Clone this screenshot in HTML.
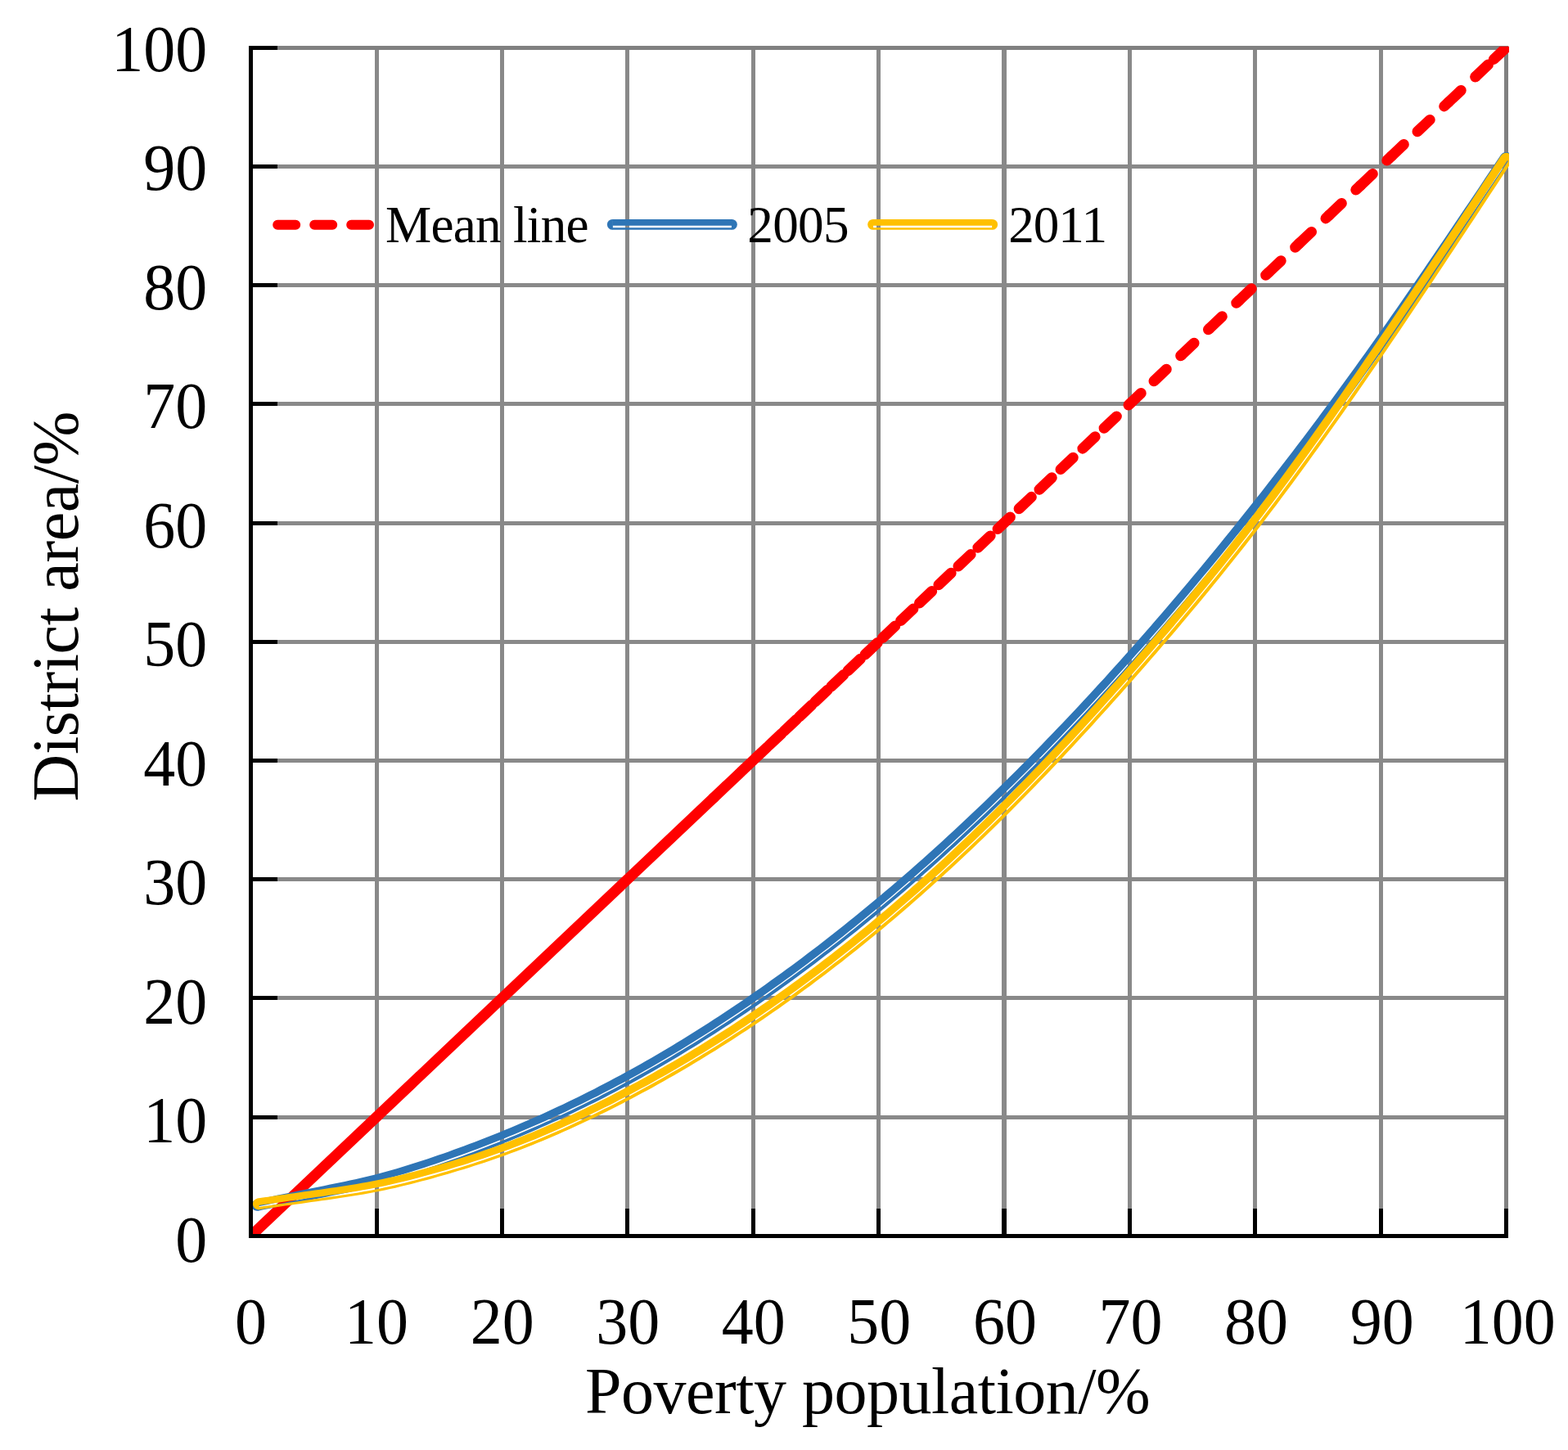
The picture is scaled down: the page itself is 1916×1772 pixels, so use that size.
<!DOCTYPE html>
<html lang="en"><head><meta charset="utf-8"><title>Lorenz curve: poverty population vs district area</title>
<style>html,body{margin:0;padding:0;background:#fff}body{width:1916px;height:1772px;overflow:hidden}svg{display:block}text{font-family:"Liberation Serif",serif;fill:#000}</style>
</head><body>
<svg width="1916" height="1772" viewBox="0 0 1916 1772">
<rect width="1916" height="1772" fill="#fff"/>
<g fill="#898989" shape-rendering="crispEdges">
<rect x="458" y="56" width="5" height="1452"/>
<rect x="611" y="56" width="5" height="1452"/>
<rect x="764" y="56" width="5" height="1452"/>
<rect x="918" y="56" width="5" height="1452"/>
<rect x="1071" y="56" width="5" height="1452"/>
<rect x="1224" y="56" width="6" height="1452"/>
<rect x="1378" y="56" width="5" height="1452"/>
<rect x="1531" y="56" width="5" height="1452"/>
<rect x="1685" y="56" width="5" height="1452"/>
<rect x="304" y="1363" width="1539" height="5"/>
<rect x="304" y="1217" width="1539" height="5"/>
<rect x="304" y="1072" width="1539" height="5"/>
<rect x="304" y="927" width="1539" height="5"/>
<rect x="304" y="782" width="1539" height="5"/>
<rect x="304" y="637" width="1539" height="5"/>
<rect x="304" y="491" width="1539" height="5"/>
<rect x="304" y="346" width="1539" height="5"/>
<rect x="304" y="201" width="1539" height="5"/>
<rect x="1838" y="56" width="5" height="1452" fill="#808080"/>
<rect x="304" y="56" width="1539" height="5" fill="#808080"/>
</g>
<clipPath id="plot"><rect x="306.5" y="56.8" width="1537.5" height="1453.6"/></clipPath>
<g clip-path="url(#plot)">
<g stroke="#FF0000" stroke-width="13" fill="none" stroke-linecap="round">
<line x1="306.5" y1="1510.4" x2="872.01" y2="975.01"/>
<line x1="872.01" y1="975.01" x2="888.24" y2="959.64" stroke-dasharray="21 24"/>
<line x1="888.24" y1="959.64" x2="904.94" y2="943.83" stroke-dasharray="21 24"/>
<line x1="904.94" y1="943.83" x2="922.12" y2="927.57" stroke-dasharray="21 24"/>
<line x1="922.12" y1="927.57" x2="939.78" y2="910.85" stroke-dasharray="21 24"/>
<line x1="939.78" y1="910.85" x2="957.96" y2="893.64" stroke-dasharray="21 24"/>
<line x1="957.96" y1="893.64" x2="976.66" y2="875.94" stroke-dasharray="21 24"/>
<line x1="976.66" y1="875.94" x2="995.89" y2="857.73" stroke-dasharray="21 24"/>
<line x1="995.89" y1="857.73" x2="1015.68" y2="839" stroke-dasharray="21 24"/>
<line x1="1015.68" y1="839" x2="1036.03" y2="819.73" stroke-dasharray="21 24"/>
<line x1="1036.03" y1="819.73" x2="1056.97" y2="799.91" stroke-dasharray="21 24"/>
<line x1="1056.97" y1="799.91" x2="1078.5" y2="779.51" stroke-dasharray="21 24"/>
<line x1="1078.5" y1="779.51" x2="1100.66" y2="758.54" stroke-dasharray="21 24"/>
<line x1="1100.66" y1="758.54" x2="1123.45" y2="736.96" stroke-dasharray="21 24"/>
<line x1="1123.45" y1="736.96" x2="1146.9" y2="714.76" stroke-dasharray="21 24"/>
<line x1="1146.9" y1="714.76" x2="1170.9" y2="692.04" stroke-dasharray="21 24"/>
<line x1="1170.9" y1="692.04" x2="1194.9" y2="669.32" stroke-dasharray="21 24"/>
<line x1="1194.9" y1="669.32" x2="1219.1" y2="646.41" stroke-dasharray="21 24"/>
<line x1="1219.1" y1="646.41" x2="1245.1" y2="621.79" stroke-dasharray="21 24"/>
<line x1="1245.1" y1="621.79" x2="1270" y2="598.22" stroke-dasharray="21 24"/>
<line x1="1270" y1="598.22" x2="1296" y2="573.6" stroke-dasharray="21 24"/>
<line x1="1296" y1="573.6" x2="1322.9" y2="548.14" stroke-dasharray="21 24"/>
<line x1="1322.9" y1="548.14" x2="1349.1" y2="523.33" stroke-dasharray="21 24"/>
<line x1="1349.1" y1="523.33" x2="1379" y2="495.02" stroke-dasharray="21 24"/>
<line x1="1379" y1="495.02" x2="1410" y2="465.68" stroke-dasharray="21 24"/>
<line x1="1410" y1="465.68" x2="1443.8" y2="433.68" stroke-dasharray="21 24"/>
<line x1="1443.8" y1="433.68" x2="1478.1" y2="401.2" stroke-dasharray="21 24"/>
<line x1="1478.1" y1="401.2" x2="1514" y2="367.21" stroke-dasharray="21 24"/>
<line x1="1514" y1="367.21" x2="1550" y2="333.13" stroke-dasharray="21 24"/>
<line x1="1550" y1="333.13" x2="1587.3" y2="297.82" stroke-dasharray="21 24"/>
<line x1="1587.3" y1="297.82" x2="1624.1" y2="262.98" stroke-dasharray="21 24"/>
<line x1="1624.1" y1="262.98" x2="1662.1" y2="227" stroke-dasharray="21 24"/>
<line x1="1662.1" y1="227" x2="1700.1" y2="191.03" stroke-dasharray="21 24"/>
<line x1="1700.1" y1="191.03" x2="1732" y2="160.83" stroke-dasharray="21 24"/>
<line x1="1732" y1="160.83" x2="1770" y2="124.85" stroke-dasharray="21 24"/>
<line x1="1770" y1="124.85" x2="1803.2" y2="93.42" stroke-dasharray="21 24"/>
<line x1="1803.2" y1="93.42" x2="1825.4" y2="72.4" stroke-dasharray="21 24"/>
<line x1="1825.4" y1="72.4" x2="1840.4" y2="58.2" stroke-dasharray="21 24"/>
</g>
<g fill="#2E75B6" stroke="none">
<path d="M312.76 1466.18 L319.15 1464.85 L325.53 1463.51 L331.92 1462.18 L338.31 1460.86 L344.7 1459.53 L351.09 1458.21 L357.48 1456.89 L363.87 1455.58 L370.27 1454.28 L376.66 1452.98 L383.05 1451.69 L389.44 1450.41 L395.83 1449.13 L402.21 1447.85 L408.58 1446.56 L414.94 1445.25 L421.3 1443.92 L427.66 1442.56 L434.01 1441.17 L440.35 1439.75 L446.68 1438.27 L453.01 1436.75 L459.34 1435.17 L465.67 1433.52 L471.99 1431.81 L478.32 1430.02 L484.64 1428.18 L490.98 1426.29 L497.31 1424.36 L503.65 1422.37 L509.99 1420.34 L516.33 1418.27 L522.68 1416.16 L529.02 1414.02 L535.38 1411.84 L541.73 1409.63 L548.08 1407.39 L554.43 1405.11 L560.78 1402.81 L567.14 1400.47 L573.49 1398.1 L579.84 1395.7 L586.19 1393.26 L592.54 1390.8 L598.89 1388.29 L605.24 1385.76 L611.59 1383.19 L617.94 1380.59 L624.29 1377.95 L630.64 1375.28 L636.99 1372.57 L643.34 1369.83 L649.69 1367.05 L656.04 1364.24 L662.39 1361.39 L668.74 1358.5 L675.09 1355.58 L681.44 1352.62 L687.79 1349.63 L694.14 1346.6 L700.48 1343.53 L706.83 1340.42 L713.18 1337.28 L719.53 1334.1 L725.88 1330.88 L732.22 1327.62 L738.57 1324.32 L744.92 1320.98 L751.27 1317.61 L757.62 1314.19 L763.96 1310.74 L770.31 1307.24 L776.66 1303.71 L783.02 1300.15 L789.37 1296.55 L795.73 1292.9 L802.08 1289.22 L808.44 1285.5 L814.8 1281.74 L821.15 1277.93 L827.51 1274.09 L833.87 1270.21 L840.22 1266.3 L846.58 1262.34 L852.94 1258.34 L859.3 1254.31 L865.66 1250.23 L872.02 1246.12 L878.37 1241.97 L884.73 1237.78 L891.09 1233.56 L897.45 1229.29 L903.82 1224.99 L910.18 1220.65 L916.54 1216.27 L922.9 1211.85 L929.26 1207.4 L935.62 1202.9 L941.98 1198.37 L948.34 1193.81 L954.71 1189.2 L961.07 1184.56 L967.43 1179.88 L973.79 1175.16 L980.16 1170.4 L986.52 1165.6 L992.88 1160.77 L999.25 1155.9 L1005.61 1150.99 L1011.97 1146.04 L1018.34 1141.05 L1024.7 1136.03 L1031.06 1130.97 L1037.43 1125.86 L1043.79 1120.72 L1050.16 1115.54 L1056.52 1110.33 L1062.89 1105.07 L1069.25 1099.78 L1075.62 1094.44 L1081.98 1089.07 L1088.35 1083.66 L1094.72 1078.21 L1101.08 1072.72 L1107.45 1067.19 L1113.81 1061.63 L1120.18 1056.02 L1126.55 1050.38 L1132.91 1044.7 L1139.28 1038.98 L1145.65 1033.22 L1152.02 1027.42 L1158.38 1021.58 L1164.75 1015.71 L1171.12 1009.79 L1177.49 1003.84 L1183.86 997.85 L1190.22 991.82 L1196.59 985.75 L1202.96 979.64 L1209.33 973.5 L1215.7 967.31 L1222.07 961.09 L1228.44 954.83 L1234.81 948.53 L1241.18 942.19 L1247.55 935.81 L1253.92 929.4 L1260.29 922.94 L1266.66 916.45 L1273.03 909.92 L1279.4 903.36 L1285.77 896.75 L1292.14 890.11 L1298.51 883.42 L1304.88 876.71 L1311.26 869.95 L1317.63 863.16 L1324 856.32 L1330.37 849.46 L1336.74 842.55 L1343.12 835.61 L1349.49 828.63 L1355.86 821.61 L1362.23 814.55 L1368.61 807.46 L1374.98 800.34 L1381.35 793.17 L1387.73 785.97 L1394.1 778.73 L1400.47 771.46 L1406.85 764.15 L1413.22 756.8 L1419.59 749.41 L1425.97 741.99 L1432.34 734.53 L1438.72 727.03 L1445.09 719.5 L1451.46 711.92 L1457.84 704.31 L1464.21 696.66 L1470.59 688.98 L1476.96 681.26 L1483.34 673.49 L1489.71 665.69 L1496.08 657.86 L1502.46 649.98 L1508.83 642.07 L1515.21 634.11 L1521.58 626.12 L1527.96 618.09 L1534.33 610.03 L1540.71 601.92 L1547.08 593.77 L1553.46 585.59 L1559.83 577.37 L1566.21 569.1 L1572.58 560.8 L1578.96 552.46 L1585.34 544.08 L1591.71 535.66 L1598.09 527.2 L1604.46 518.69 L1610.84 510.15 L1617.21 501.57 L1623.59 492.95 L1629.97 484.29 L1636.34 475.58 L1642.72 466.84 L1649.09 458.06 L1655.47 449.23 L1661.85 440.36 L1668.22 431.45 L1674.6 422.5 L1680.98 413.51 L1687.35 404.48 L1693.73 395.41 L1700.11 386.29 L1706.48 377.14 L1712.86 367.96 L1719.24 358.74 L1725.62 349.49 L1732 340.21 L1738.38 330.9 L1744.76 321.57 L1751.14 312.21 L1757.52 302.82 L1763.91 293.42 L1770.29 283.99 L1776.67 274.55 L1783.05 265.09 L1789.44 255.62 L1795.82 246.13 L1802.2 236.64 L1808.59 227.13 L1814.97 217.62 L1821.36 208.1 L1827.74 198.58 L1834.13 189.05 L1842.19 194.45 L1835.8 203.98 L1829.41 213.5 L1823.03 223.02 L1816.64 232.54 L1810.26 242.05 L1803.87 251.55 L1797.48 261.04 L1791.1 270.51 L1784.71 279.98 L1778.32 289.43 L1771.93 298.86 L1765.55 308.27 L1759.16 317.66 L1752.77 327.03 L1746.39 336.38 L1740 345.7 L1733.61 354.99 L1727.22 364.25 L1720.83 373.49 L1714.45 382.68 L1708.06 391.85 L1701.67 400.98 L1695.28 410.07 L1688.89 419.12 L1682.5 428.12 L1676.12 437.09 L1669.73 446.02 L1663.34 454.9 L1656.95 463.74 L1650.56 472.55 L1644.17 481.31 L1637.78 490.03 L1631.4 498.71 L1625.01 507.35 L1618.62 515.95 L1612.23 524.51 L1605.84 533.02 L1599.45 541.5 L1593.06 549.94 L1586.67 558.34 L1580.28 566.7 L1573.9 575.02 L1567.51 583.3 L1561.12 591.54 L1554.73 599.74 L1548.34 607.91 L1541.95 616.03 L1535.56 624.12 L1529.17 632.16 L1522.78 640.17 L1516.39 648.14 L1510.01 656.07 L1503.62 663.97 L1497.23 671.82 L1490.84 679.64 L1484.45 687.42 L1478.06 695.16 L1471.67 702.87 L1465.28 710.53 L1458.89 718.16 L1452.5 725.75 L1446.11 733.3 L1439.72 740.82 L1433.34 748.3 L1426.95 755.74 L1420.56 763.14 L1414.17 770.51 L1407.78 777.84 L1401.39 785.13 L1395 792.39 L1388.61 799.61 L1382.22 806.79 L1375.83 813.94 L1369.44 821.05 L1363.05 828.12 L1356.66 835.16 L1350.27 842.16 L1343.88 849.12 L1337.49 856.04 L1331.1 862.93 L1324.71 869.78 L1318.32 876.59 L1311.93 883.37 L1305.54 890.11 L1299.15 896.81 L1292.76 903.47 L1286.37 910.1 L1279.98 916.69 L1273.59 923.24 L1267.2 929.75 L1260.81 936.22 L1254.42 942.66 L1248.03 949.06 L1241.64 955.42 L1235.25 961.74 L1228.86 968.02 L1222.47 974.26 L1216.08 980.47 L1209.69 986.64 L1203.3 992.76 L1196.9 998.85 L1190.51 1004.9 L1184.12 1010.92 L1177.73 1016.89 L1171.34 1022.83 L1164.95 1028.72 L1158.56 1034.58 L1152.17 1040.4 L1145.78 1046.18 L1139.39 1051.92 L1132.99 1057.63 L1126.6 1063.29 L1120.21 1068.92 L1113.82 1074.51 L1107.43 1080.06 L1101.04 1085.57 L1094.64 1091.04 L1088.25 1096.47 L1081.86 1101.87 L1075.47 1107.22 L1069.08 1112.54 L1062.69 1117.82 L1056.29 1123.06 L1049.9 1128.26 L1043.51 1133.42 L1037.12 1138.55 L1030.73 1143.63 L1024.33 1148.68 L1017.94 1153.69 L1011.55 1158.66 L1005.16 1163.59 L998.76 1168.48 L992.37 1173.34 L985.98 1178.16 L979.59 1182.94 L973.19 1187.68 L966.8 1192.38 L960.41 1197.05 L954.02 1201.68 L947.62 1206.27 L941.23 1210.82 L934.84 1215.33 L928.45 1219.81 L922.05 1224.25 L915.66 1228.65 L909.27 1233.01 L902.87 1237.34 L896.48 1241.62 L890.09 1245.87 L883.69 1250.08 L877.3 1254.26 L870.91 1258.39 L864.51 1262.49 L858.12 1266.54 L851.73 1270.56 L845.33 1274.54 L838.94 1278.48 L832.54 1282.38 L826.15 1286.25 L819.75 1290.07 L813.36 1293.86 L806.97 1297.6 L800.57 1301.31 L794.18 1304.97 L787.78 1308.6 L781.39 1312.18 L774.99 1315.73 L768.59 1319.23 L762.19 1322.68 L755.79 1326.1 L749.39 1329.48 L742.99 1332.82 L736.6 1336.12 L730.2 1339.38 L723.8 1342.6 L717.4 1345.78 L711 1348.93 L704.6 1352.04 L698.2 1355.1 L691.81 1358.14 L685.41 1361.13 L679.01 1364.09 L672.61 1367.01 L666.21 1369.89 L659.81 1372.74 L653.42 1375.55 L647.02 1378.32 L640.62 1381.06 L634.22 1383.77 L627.83 1386.44 L621.43 1389.07 L615.03 1391.67 L608.63 1394.24 L602.24 1396.77 L595.84 1399.27 L589.44 1401.73 L583.05 1404.16 L576.65 1406.56 L570.25 1408.93 L563.85 1411.26 L557.46 1413.56 L551.06 1415.83 L544.67 1418.06 L538.27 1420.27 L531.87 1422.44 L525.48 1424.58 L519.08 1426.68 L512.68 1428.74 L506.28 1430.76 L499.88 1432.73 L493.48 1434.66 L487.08 1436.53 L480.67 1438.36 L474.27 1440.12 L467.87 1441.84 L461.47 1443.5 L455.06 1445.1 L448.66 1446.64 L442.27 1448.13 L435.87 1449.57 L429.47 1450.97 L423.08 1452.33 L416.69 1453.67 L410.3 1454.98 L403.91 1456.28 L397.52 1457.56 L391.13 1458.84 L384.75 1460.12 L378.37 1461.41 L371.98 1462.71 L365.6 1464.01 L359.21 1465.32 L352.83 1466.63 L346.44 1467.95 L340.06 1469.28 L333.67 1470.6 L327.29 1471.93 L320.9 1473.27 L314.52 1474.6 Z"/>
<path d="M314.93 1476.56 L321.31 1475.22 L327.7 1473.89 L334.08 1472.56 L340.47 1471.24 L346.85 1469.91 L353.23 1468.59 L359.62 1467.28 L366 1465.97 L372.38 1464.67 L378.76 1463.37 L385.14 1462.08 L391.53 1460.8 L397.91 1459.52 L404.3 1458.24 L410.7 1456.94 L417.09 1455.63 L423.49 1454.29 L429.9 1452.92 L436.3 1451.52 L442.71 1450.08 L449.13 1448.59 L455.54 1447.04 L461.96 1445.44 L468.38 1443.77 L474.79 1442.04 L481.21 1440.24 L487.62 1438.4 L494.03 1436.49 L500.43 1434.55 L506.84 1432.55 L513.25 1430.51 L519.65 1428.43 L526.05 1426.31 L532.45 1424.16 L538.85 1421.97 L545.25 1419.75 L551.65 1417.5 L558.05 1415.22 L564.45 1412.9 L570.85 1410.56 L577.25 1408.18 L583.65 1405.77 L590.05 1403.32 L596.45 1400.84 L602.85 1398.33 L609.25 1395.78 L615.65 1393.2 L622.05 1390.58 L628.45 1387.93 L634.85 1385.25 L641.25 1382.53 L647.65 1379.78 L654.04 1376.98 L660.44 1374.16 L666.84 1371.3 L673.24 1368.4 L679.64 1365.46 L686.04 1362.49 L692.44 1359.48 L698.84 1356.43 L705.24 1353.35 L711.64 1350.23 L718.04 1347.07 L724.43 1343.87 L730.83 1340.63 L737.23 1337.35 L743.63 1334.04 L750.03 1330.68 L756.43 1327.29 L762.82 1323.86 L769.22 1320.38 L775.62 1316.87 L782.02 1313.32 L788.42 1309.73 L794.82 1306.1 L801.22 1302.43 L807.62 1298.72 L814.02 1294.98 L820.42 1291.19 L826.82 1287.36 L833.22 1283.5 L839.62 1279.59 L846.02 1275.65 L852.41 1271.66 L858.81 1267.64 L865.21 1263.58 L871.61 1259.48 L878.01 1255.35 L884.41 1251.17 L890.8 1246.96 L897.2 1242.7 L903.6 1238.41 L910 1234.09 L916.39 1229.72 L922.79 1225.32 L929.19 1220.87 L935.59 1216.39 L941.98 1211.88 L948.38 1207.32 L954.78 1202.73 L961.17 1198.1 L967.57 1193.43 L973.97 1188.72 L980.36 1183.98 L986.76 1179.2 L993.16 1174.38 L999.55 1169.52 L1005.95 1164.62 L1012.35 1159.69 L1018.74 1154.71 L1025.14 1149.7 L1031.53 1144.65 L1037.93 1139.56 L1044.33 1134.43 L1050.72 1129.27 L1057.12 1124.06 L1063.51 1118.82 L1069.91 1113.54 L1076.3 1108.22 L1082.7 1102.86 L1089.09 1097.46 L1095.49 1092.03 L1101.88 1086.55 L1108.28 1081.04 L1114.67 1075.49 L1121.07 1069.9 L1127.46 1064.27 L1133.86 1058.6 L1140.25 1052.89 L1146.65 1047.15 L1153.04 1041.36 L1159.44 1035.54 L1165.83 1029.68 L1172.22 1023.78 L1178.62 1017.84 L1185.01 1011.87 L1191.41 1005.85 L1197.8 999.8 L1204.19 993.7 L1210.59 987.57 L1216.98 981.4 L1223.37 975.19 L1229.77 968.95 L1236.16 962.66 L1242.56 956.34 L1248.95 949.98 L1255.34 943.58 L1261.73 937.14 L1268.13 930.66 L1274.52 924.15 L1280.91 917.59 L1287.31 911 L1293.7 904.37 L1300.09 897.71 L1306.48 891 L1312.88 884.26 L1319.27 877.49 L1325.66 870.67 L1332.05 863.82 L1338.45 856.93 L1344.84 850 L1351.23 843.03 L1357.62 836.03 L1364.01 828.99 L1370.41 821.92 L1376.8 814.81 L1383.19 807.66 L1389.58 800.47 L1395.97 793.25 L1402.36 785.99 L1408.76 778.7 L1415.15 771.36 L1421.54 763.99 L1427.93 756.59 L1434.32 749.14 L1440.71 741.66 L1447.11 734.14 L1453.5 726.59 L1459.89 719 L1466.28 711.37 L1472.67 703.7 L1479.06 695.99 L1485.45 688.25 L1491.84 680.46 L1498.24 672.65 L1504.63 664.79 L1511.02 656.89 L1517.41 648.96 L1523.8 640.98 L1530.19 632.97 L1536.58 624.92 L1542.97 616.84 L1549.36 608.71 L1555.75 600.54 L1562.14 592.34 L1568.54 584.1 L1574.93 575.81 L1581.32 567.49 L1587.71 559.13 L1594.1 550.73 L1600.49 542.29 L1606.88 533.81 L1613.27 525.28 L1619.66 516.72 L1626.05 508.12 L1632.44 499.48 L1638.83 490.8 L1645.22 482.08 L1651.61 473.31 L1658 464.51 L1664.39 455.66 L1670.78 446.78 L1677.17 437.85 L1683.56 428.88 L1689.95 419.87 L1696.34 410.81 L1702.73 401.72 L1709.12 392.59 L1715.51 383.43 L1721.9 374.23 L1728.29 364.99 L1734.68 355.73 L1741.07 346.43 L1747.46 337.11 L1753.85 327.77 L1760.23 318.4 L1766.62 309 L1773.01 299.59 L1779.4 290.16 L1785.79 280.71 L1792.17 271.24 L1798.56 261.76 L1804.95 252.27 L1811.33 242.77 L1817.72 233.26 L1824.11 223.75 L1830.49 214.23 L1836.88 204.7 L1843.27 195.18 L1846.67 197.46 L1840.29 206.98 L1833.9 216.51 L1827.51 226.03 L1821.12 235.55 L1814.74 245.06 L1808.35 254.56 L1801.96 264.05 L1795.57 273.53 L1789.18 283 L1782.79 292.45 L1776.4 301.89 L1770.01 311.31 L1763.62 320.7 L1757.23 330.08 L1750.84 339.43 L1744.45 348.75 L1738.06 358.05 L1731.67 367.32 L1725.27 376.56 L1718.88 385.77 L1712.49 394.94 L1706.09 404.08 L1699.7 413.18 L1693.3 422.23 L1686.91 431.25 L1680.51 440.23 L1674.12 449.17 L1667.72 458.06 L1661.32 466.91 L1654.93 475.72 L1648.53 484.49 L1642.14 493.23 L1635.74 501.91 L1629.34 510.56 L1622.95 519.17 L1616.55 527.74 L1610.16 536.27 L1603.76 544.76 L1597.36 553.21 L1590.97 561.61 L1584.57 569.98 L1578.17 578.31 L1571.78 586.6 L1565.38 594.85 L1558.99 603.07 L1552.59 611.24 L1546.19 619.37 L1539.8 627.47 L1533.4 635.53 L1527 643.54 L1520.6 651.52 L1514.21 659.47 L1507.81 667.37 L1501.41 675.24 L1495.02 683.06 L1488.62 690.85 L1482.22 698.6 L1475.82 706.32 L1469.43 713.99 L1463.03 721.63 L1456.63 729.23 L1450.23 736.8 L1443.83 744.32 L1437.44 751.81 L1431.04 759.26 L1424.64 766.68 L1418.24 774.05 L1411.84 781.39 L1405.45 788.7 L1399.05 795.96 L1392.65 803.19 L1386.25 810.39 L1379.85 817.54 L1373.45 824.66 L1367.05 831.75 L1360.65 838.79 L1354.25 845.8 L1347.86 852.77 L1341.46 859.71 L1335.06 866.61 L1328.66 873.47 L1322.26 880.29 L1315.86 887.08 L1309.46 893.83 L1303.05 900.54 L1296.65 907.22 L1290.25 913.85 L1283.85 920.45 L1277.45 927.01 L1271.05 933.54 L1264.65 940.02 L1258.25 946.47 L1251.84 952.88 L1245.44 959.25 L1239.04 965.58 L1232.64 971.88 L1226.24 978.13 L1219.83 984.35 L1213.43 990.53 L1207.03 996.67 L1200.62 1002.77 L1194.22 1008.83 L1187.82 1014.86 L1181.41 1020.84 L1175.01 1026.79 L1168.61 1032.7 L1162.2 1038.57 L1155.8 1044.4 L1149.39 1050.19 L1142.99 1055.95 L1136.58 1061.66 L1130.18 1067.34 L1123.77 1072.98 L1117.37 1078.58 L1110.96 1084.14 L1104.56 1089.66 L1098.15 1095.15 L1091.74 1100.59 L1085.34 1106 L1078.93 1111.37 L1072.52 1116.7 L1066.12 1121.99 L1059.71 1127.24 L1053.3 1132.45 L1046.9 1137.63 L1040.49 1142.76 L1034.08 1147.86 L1027.67 1152.92 L1021.26 1157.94 L1014.86 1162.93 L1008.45 1167.87 L1002.04 1172.78 L995.63 1177.65 L989.22 1182.48 L982.81 1187.27 L976.4 1192.02 L969.99 1196.74 L963.58 1201.42 L957.17 1206.06 L950.76 1210.66 L944.35 1215.22 L937.94 1219.75 L931.53 1224.24 L925.12 1228.69 L918.71 1233.1 L912.3 1237.48 L905.89 1241.81 L899.48 1246.11 L893.07 1250.38 L886.65 1254.6 L880.24 1258.78 L873.83 1262.93 L867.42 1267.04 L861 1271.11 L854.59 1275.14 L848.17 1279.13 L841.76 1283.09 L835.35 1287 L828.93 1290.88 L822.52 1294.71 L816.1 1298.51 L809.68 1302.27 L803.27 1305.98 L796.85 1309.66 L790.43 1313.3 L784.02 1316.9 L777.6 1320.45 L771.17 1323.96 L764.75 1327.43 L758.33 1330.86 L751.9 1334.24 L745.48 1337.59 L739.05 1340.9 L732.63 1344.17 L726.21 1347.4 L719.78 1350.59 L713.36 1353.74 L706.94 1356.85 L700.51 1359.93 L694.09 1362.97 L687.67 1365.97 L681.24 1368.94 L674.82 1371.86 L668.4 1374.75 L661.97 1377.61 L655.55 1380.43 L649.13 1383.21 L642.71 1385.95 L636.29 1388.66 L629.86 1391.34 L623.44 1393.98 L617.02 1396.59 L610.6 1399.16 L604.18 1401.69 L597.76 1404.2 L591.34 1406.67 L584.92 1409.1 L578.5 1411.51 L572.08 1413.88 L565.66 1416.21 L559.24 1418.52 L552.82 1420.79 L546.4 1423.03 L539.98 1425.24 L533.56 1427.41 L527.13 1429.56 L520.71 1431.66 L514.28 1433.73 L507.85 1435.75 L501.41 1437.73 L494.97 1439.66 L488.53 1441.54 L482.09 1443.37 L475.64 1445.14 L469.2 1446.86 L462.75 1448.54 L456.3 1450.15 L449.86 1451.7 L443.43 1453.2 L437 1454.65 L430.57 1456.05 L424.16 1457.42 L417.74 1458.76 L411.34 1460.08 L404.94 1461.37 L398.54 1462.66 L392.16 1463.94 L385.78 1465.22 L379.4 1466.51 L373.02 1467.8 L366.64 1469.1 L360.26 1470.41 L353.88 1471.73 L347.5 1473.05 L341.12 1474.37 L334.73 1475.7 L328.35 1477.02 L321.96 1478.36 L315.58 1479.69 Z"/>
<path d="M313.35 1466.06 L312.76 1466.18 A6.9 6.9 0 0 0 315.58 1479.69 L316.17 1479.57 Z"/>
<path d="M1833.79 189.55 L1834.13 189.05 A7.55 7.55 0 0 1 1846.67 197.46 L1846.34 197.96 Z"/>
</g>
<g fill="#FFC000" stroke="none">
<path d="M314.73 1464.51 L321.11 1463.59 L327.49 1462.68 L333.87 1461.77 L340.25 1460.87 L346.63 1459.96 L353.01 1459.05 L359.39 1458.14 L365.77 1457.24 L372.15 1456.34 L378.54 1455.44 L384.92 1454.54 L391.29 1453.64 L397.66 1452.74 L404.03 1451.83 L410.39 1450.91 L416.74 1449.96 L423.09 1448.98 L429.43 1447.98 L435.77 1446.94 L442.1 1445.85 L448.43 1444.72 L454.75 1443.53 L461.06 1442.28 L467.38 1440.97 L473.7 1439.6 L480.02 1438.18 L486.35 1436.69 L492.68 1435.16 L499.01 1433.58 L505.35 1431.95 L511.69 1430.28 L518.03 1428.55 L524.37 1426.79 L530.71 1424.99 L537.06 1423.16 L543.4 1421.3 L549.75 1419.4 L556.09 1417.48 L562.43 1415.51 L568.77 1413.51 L575.1 1411.47 L581.44 1409.39 L587.77 1407.27 L594.1 1405.1 L600.43 1402.89 L606.76 1400.63 L613.09 1398.32 L619.41 1395.96 L625.74 1393.55 L632.07 1391.09 L638.4 1388.58 L644.73 1386.03 L651.06 1383.43 L657.39 1380.78 L663.72 1378.08 L670.06 1375.35 L676.39 1372.56 L682.72 1369.73 L689.06 1366.86 L695.39 1363.94 L701.73 1360.99 L708.07 1357.99 L714.41 1354.95 L720.75 1351.86 L727.09 1348.74 L733.43 1345.58 L739.77 1342.38 L746.11 1339.14 L752.45 1335.86 L758.8 1332.54 L765.14 1329.19 L771.48 1325.8 L777.83 1322.38 L784.17 1318.91 L790.52 1315.41 L796.86 1311.89 L803.21 1308.32 L809.56 1304.72 L815.91 1301.08 L822.26 1297.4 L828.61 1293.69 L834.96 1289.94 L841.31 1286.14 L847.67 1282.31 L854.02 1278.44 L860.37 1274.53 L866.72 1270.58 L873.07 1266.59 L879.42 1262.56 L885.77 1258.49 L892.12 1254.39 L898.47 1250.23 L904.82 1246.04 L911.17 1241.81 L917.53 1237.54 L923.88 1233.22 L930.23 1228.87 L936.58 1224.47 L942.93 1220.03 L949.29 1215.55 L955.64 1211.03 L961.99 1206.46 L968.34 1201.86 L974.7 1197.21 L981.05 1192.52 L987.41 1187.78 L993.76 1183.01 L1000.11 1178.19 L1006.47 1173.33 L1012.82 1168.43 L1019.18 1163.48 L1025.53 1158.49 L1031.89 1153.46 L1038.24 1148.39 L1044.6 1143.27 L1050.95 1138.11 L1057.31 1132.91 L1063.66 1127.66 L1070.02 1122.37 L1076.38 1117.04 L1082.73 1111.66 L1089.09 1106.24 L1095.45 1100.78 L1101.8 1095.27 L1108.16 1089.72 L1114.52 1084.12 L1120.88 1078.49 L1127.24 1072.8 L1133.59 1067.08 L1139.95 1061.31 L1146.31 1055.5 L1152.67 1049.64 L1159.03 1043.74 L1165.39 1037.79 L1171.75 1031.8 L1178.11 1025.77 L1184.47 1019.69 L1190.83 1013.57 L1197.19 1007.41 L1203.55 1001.2 L1209.91 994.94 L1216.27 988.65 L1222.63 982.3 L1228.99 975.92 L1235.35 969.49 L1241.71 963.01 L1248.08 956.5 L1254.44 949.94 L1260.8 943.34 L1267.17 936.7 L1273.53 930.02 L1279.9 923.3 L1286.26 916.55 L1292.63 909.75 L1298.99 902.92 L1305.36 896.05 L1311.73 889.15 L1318.09 882.21 L1324.46 875.23 L1330.83 868.23 L1337.2 861.19 L1343.56 854.11 L1349.93 847.01 L1356.3 839.87 L1362.67 832.71 L1369.04 825.51 L1375.41 818.29 L1381.78 811.03 L1388.15 803.75 L1394.52 796.44 L1400.89 789.09 L1407.25 781.71 L1413.62 774.3 L1419.99 766.85 L1426.36 759.36 L1432.72 751.84 L1439.09 744.27 L1445.46 736.67 L1451.82 729.02 L1458.19 721.33 L1464.55 713.59 L1470.92 705.81 L1477.28 697.98 L1483.65 690.1 L1490.01 682.17 L1496.38 674.19 L1502.74 666.15 L1509.1 658.06 L1515.47 649.92 L1521.83 641.72 L1528.2 633.46 L1534.56 625.14 L1540.92 616.76 L1547.29 608.32 L1553.65 599.83 L1560.02 591.28 L1566.39 582.68 L1572.75 574.03 L1579.12 565.33 L1585.49 556.57 L1591.86 547.77 L1598.23 538.92 L1604.59 530.03 L1610.96 521.09 L1617.33 512.11 L1623.7 503.08 L1630.08 494.02 L1636.45 484.91 L1642.82 475.77 L1649.19 466.6 L1655.56 457.39 L1661.93 448.14 L1668.31 438.86 L1674.68 429.55 L1681.05 420.21 L1687.43 410.85 L1693.8 401.45 L1700.18 392.03 L1706.55 382.59 L1712.92 373.12 L1719.3 363.63 L1725.68 354.12 L1732.05 344.58 L1738.43 335.03 L1744.8 325.46 L1751.18 315.87 L1757.56 306.27 L1763.93 296.66 L1770.31 287.03 L1776.69 277.39 L1783.06 267.73 L1789.44 258.07 L1795.82 248.4 L1802.2 238.72 L1808.58 229.04 L1814.96 219.35 L1821.33 209.66 L1827.71 199.96 L1834.09 190.27 L1842.2 195.6 L1835.82 205.3 L1829.44 214.99 L1823.06 224.68 L1816.68 234.38 L1810.3 244.06 L1803.92 253.74 L1797.54 263.41 L1791.16 273.08 L1784.78 282.74 L1778.4 292.38 L1772.02 302.02 L1765.64 311.64 L1759.26 321.24 L1752.88 330.84 L1746.5 340.41 L1740.12 349.97 L1733.74 359.51 L1727.35 369.03 L1720.97 378.53 L1714.59 388.01 L1708.21 397.46 L1701.83 406.89 L1695.45 416.3 L1689.07 425.68 L1682.69 435.03 L1676.31 444.35 L1669.93 453.64 L1663.54 462.9 L1657.16 472.12 L1650.78 481.31 L1644.4 490.47 L1638.02 499.59 L1631.63 508.67 L1625.25 517.71 L1618.87 526.71 L1612.49 535.66 L1606.11 544.58 L1599.72 553.45 L1593.34 562.27 L1586.96 571.04 L1580.57 579.77 L1574.19 588.44 L1567.81 597.07 L1561.43 605.64 L1555.04 614.15 L1548.66 622.61 L1542.27 631.02 L1535.89 639.36 L1529.51 647.65 L1523.12 655.88 L1516.74 664.05 L1510.35 672.16 L1503.97 680.22 L1497.59 688.23 L1491.2 696.18 L1484.82 704.09 L1478.44 711.94 L1472.05 719.74 L1465.67 727.5 L1459.29 735.22 L1452.9 742.88 L1446.52 750.51 L1440.14 758.09 L1433.75 765.64 L1427.37 773.14 L1420.99 780.61 L1414.6 788.04 L1408.22 795.44 L1401.84 802.8 L1395.46 810.13 L1389.07 817.42 L1382.69 824.69 L1376.31 831.93 L1369.93 839.14 L1363.54 846.32 L1357.16 853.48 L1350.78 860.6 L1344.4 867.69 L1338.01 874.74 L1331.63 881.77 L1325.25 888.76 L1318.86 895.71 L1312.48 902.64 L1306.1 909.52 L1299.71 916.37 L1293.33 923.19 L1286.95 929.96 L1280.56 936.7 L1274.18 943.4 L1267.8 950.06 L1261.41 956.68 L1255.03 963.26 L1248.64 969.8 L1242.26 976.3 L1235.87 982.75 L1229.49 989.16 L1223.11 995.53 L1216.72 1001.85 L1210.34 1008.13 L1203.95 1014.36 L1197.57 1020.55 L1191.18 1026.69 L1184.8 1032.79 L1178.41 1038.85 L1172.03 1044.87 L1165.64 1050.83 L1159.25 1056.76 L1152.87 1062.64 L1146.48 1068.48 L1140.1 1074.27 L1133.71 1080.02 L1127.33 1085.73 L1120.94 1091.39 L1114.56 1097.01 L1108.17 1102.59 L1101.78 1108.12 L1095.4 1113.61 L1089.01 1119.05 L1082.63 1124.46 L1076.24 1129.81 L1069.85 1135.13 L1063.47 1140.4 L1057.08 1145.63 L1050.7 1150.81 L1044.31 1155.96 L1037.92 1161.05 L1031.54 1166.11 L1025.15 1171.12 L1018.76 1176.09 L1012.38 1181.02 L1005.99 1185.91 L999.6 1190.75 L993.22 1195.55 L986.83 1200.31 L980.44 1205.02 L974.06 1209.7 L967.67 1214.33 L961.28 1218.92 L954.89 1223.47 L948.51 1227.97 L942.12 1232.43 L935.73 1236.86 L929.35 1241.24 L922.96 1245.58 L916.57 1249.87 L910.18 1254.13 L903.8 1258.34 L897.41 1262.52 L891.02 1266.65 L884.63 1270.74 L878.25 1274.8 L871.86 1278.81 L865.47 1282.78 L859.08 1286.71 L852.69 1290.61 L846.31 1294.46 L839.92 1298.27 L833.53 1302.05 L827.14 1305.79 L820.76 1309.49 L814.37 1313.15 L807.98 1316.77 L801.59 1320.36 L795.2 1323.9 L788.81 1327.4 L782.42 1330.87 L776.03 1334.3 L769.64 1337.69 L763.24 1341.04 L756.85 1344.36 L750.46 1347.64 L744.07 1350.88 L737.67 1354.08 L731.28 1357.25 L724.89 1360.37 L718.5 1363.45 L712.1 1366.49 L705.71 1369.49 L699.32 1372.45 L692.92 1375.36 L686.53 1378.24 L680.13 1381.06 L673.74 1383.84 L667.34 1386.58 L660.95 1389.27 L654.55 1391.91 L648.16 1394.51 L641.76 1397.06 L635.37 1399.56 L628.97 1402.01 L622.58 1404.42 L616.18 1406.77 L609.78 1409.07 L603.39 1411.32 L596.99 1413.53 L590.6 1415.69 L584.21 1417.8 L577.81 1419.87 L571.42 1421.9 L565.03 1423.89 L558.64 1425.85 L552.25 1427.77 L545.86 1429.65 L539.47 1431.51 L533.08 1433.33 L526.69 1435.12 L520.3 1436.87 L513.91 1438.59 L507.52 1440.27 L501.13 1441.92 L494.74 1443.51 L488.34 1445.06 L481.95 1446.56 L475.56 1448 L469.16 1449.38 L462.77 1450.71 L456.37 1451.97 L449.98 1453.17 L443.59 1454.32 L437.2 1455.42 L430.81 1456.47 L424.42 1457.48 L418.03 1458.46 L411.64 1459.41 L405.26 1460.34 L398.88 1461.26 L392.49 1462.16 L386.11 1463.06 L379.74 1463.95 L373.36 1464.85 L366.98 1465.76 L360.6 1466.66 L354.22 1467.56 L347.84 1468.47 L341.46 1469.38 L335.08 1470.29 L328.7 1471.2 L322.32 1472.11 L315.94 1473.02 Z"/>
<path d="M316.23 1475 L322.61 1474.09 L328.98 1473.18 L335.36 1472.27 L341.74 1471.36 L348.12 1470.45 L354.5 1469.54 L360.88 1468.64 L367.26 1467.74 L373.64 1466.83 L380.01 1465.94 L386.39 1465.04 L392.77 1464.14 L399.16 1463.24 L405.55 1462.32 L411.94 1461.39 L418.33 1460.44 L424.72 1459.46 L431.12 1458.44 L437.53 1457.39 L443.93 1456.29 L450.34 1455.14 L456.75 1453.94 L463.17 1452.67 L469.58 1451.34 L475.99 1449.95 L482.4 1448.51 L488.81 1447.01 L495.21 1445.45 L501.62 1443.85 L508.02 1442.21 L514.42 1440.52 L520.82 1438.79 L527.22 1437.02 L533.61 1435.21 L540.01 1433.37 L546.4 1431.51 L552.8 1429.61 L559.19 1427.67 L565.59 1425.7 L571.99 1423.69 L578.38 1421.64 L584.78 1419.55 L591.18 1417.41 L597.58 1415.23 L603.98 1413.01 L610.38 1410.73 L616.78 1408.41 L623.18 1406.03 L629.58 1403.61 L635.98 1401.13 L642.38 1398.61 L648.78 1396.04 L655.17 1393.42 L661.57 1390.76 L667.97 1388.05 L674.37 1385.29 L680.76 1382.49 L687.16 1379.65 L693.55 1376.76 L699.95 1373.82 L706.34 1370.85 L712.74 1367.83 L719.13 1364.77 L725.52 1361.67 L731.92 1358.53 L738.31 1355.36 L744.7 1352.14 L751.1 1348.88 L757.49 1345.59 L763.88 1342.25 L770.27 1338.88 L776.66 1335.48 L783.05 1332.04 L789.44 1328.56 L795.83 1325.04 L802.23 1321.49 L808.62 1317.9 L815.01 1314.28 L821.4 1310.61 L827.8 1306.91 L834.19 1303.17 L840.58 1299.39 L846.98 1295.57 L853.37 1291.72 L859.76 1287.82 L866.15 1283.89 L872.55 1279.91 L878.94 1275.89 L885.33 1271.84 L891.72 1267.74 L898.12 1263.61 L904.51 1259.43 L910.9 1255.21 L917.29 1250.95 L923.69 1246.65 L930.08 1242.31 L936.47 1237.93 L942.86 1233.5 L949.25 1229.03 L955.65 1224.53 L962.04 1219.98 L968.43 1215.38 L974.82 1210.75 L981.21 1206.07 L987.6 1201.35 L994 1196.59 L1000.39 1191.79 L1006.78 1186.94 L1013.17 1182.05 L1019.56 1177.12 L1025.95 1172.15 L1032.34 1167.13 L1038.73 1162.07 L1045.12 1156.97 L1051.51 1151.82 L1057.9 1146.64 L1064.29 1141.4 L1070.68 1136.13 L1077.07 1130.81 L1083.46 1125.45 L1089.85 1120.04 L1096.24 1114.6 L1102.63 1109.1 L1109.02 1103.57 L1115.41 1097.99 L1121.8 1092.37 L1128.19 1086.7 L1134.58 1080.99 L1140.97 1075.24 L1147.36 1069.44 L1153.75 1063.6 L1160.14 1057.71 L1166.53 1051.79 L1172.91 1045.81 L1179.3 1039.8 L1185.69 1033.74 L1192.08 1027.63 L1198.47 1021.48 L1204.86 1015.29 L1211.25 1009.05 L1217.63 1002.77 L1224.02 996.45 L1230.41 990.08 L1236.8 983.67 L1243.19 977.21 L1249.57 970.71 L1255.96 964.17 L1262.35 957.59 L1268.73 950.96 L1275.12 944.3 L1281.51 937.6 L1287.89 930.86 L1294.28 924.08 L1300.66 917.26 L1307.05 910.41 L1313.44 903.52 L1319.82 896.59 L1326.21 889.64 L1332.59 882.64 L1338.98 875.62 L1345.36 868.56 L1351.75 861.47 L1358.13 854.34 L1364.52 847.19 L1370.9 840.01 L1377.28 832.79 L1383.67 825.55 L1390.05 818.28 L1396.44 810.98 L1402.82 803.65 L1409.2 796.29 L1415.59 788.89 L1421.97 781.46 L1428.36 773.99 L1434.74 766.48 L1441.13 758.93 L1447.51 751.35 L1453.9 743.72 L1460.29 736.05 L1466.67 728.33 L1473.06 720.57 L1479.44 712.76 L1485.83 704.9 L1492.22 697 L1498.6 689.04 L1504.99 681.03 L1511.37 672.97 L1517.76 664.85 L1524.15 656.68 L1530.53 648.44 L1536.92 640.15 L1543.31 631.81 L1549.69 623.4 L1556.08 614.93 L1562.47 606.41 L1568.85 597.84 L1575.24 589.21 L1581.62 580.54 L1588.01 571.81 L1594.39 563.03 L1600.78 554.21 L1607.16 545.34 L1613.55 536.42 L1619.93 527.46 L1626.31 518.46 L1632.7 509.42 L1639.08 500.33 L1645.46 491.21 L1651.85 482.06 L1658.23 472.86 L1664.61 463.64 L1671 454.38 L1677.38 445.08 L1683.76 435.76 L1690.14 426.41 L1696.53 417.03 L1702.91 407.62 L1709.29 398.19 L1715.67 388.74 L1722.05 379.26 L1728.43 369.76 L1734.82 360.23 L1741.2 350.69 L1747.58 341.13 L1753.96 331.56 L1760.34 321.96 L1766.72 312.36 L1773.1 302.73 L1779.48 293.1 L1785.86 283.45 L1792.24 273.8 L1798.62 264.13 L1805 254.46 L1811.38 244.78 L1817.76 235.09 L1824.14 225.4 L1830.52 215.71 L1836.9 206.01 L1843.28 196.31 L1846.71 198.57 L1840.33 208.26 L1833.95 217.96 L1827.57 227.65 L1821.19 237.35 L1814.81 247.03 L1808.43 256.71 L1802.05 266.39 L1795.66 276.06 L1789.28 285.71 L1782.9 295.36 L1776.52 305 L1770.14 314.62 L1763.75 324.23 L1757.37 333.83 L1750.99 343.41 L1744.61 352.97 L1738.22 362.52 L1731.84 372.04 L1725.45 381.55 L1719.07 391.03 L1712.69 400.49 L1706.3 409.92 L1699.92 419.33 L1693.53 428.72 L1687.15 438.07 L1680.76 447.4 L1674.37 456.7 L1667.99 465.97 L1661.6 475.2 L1655.21 484.4 L1648.83 493.56 L1642.44 502.69 L1636.05 511.78 L1629.66 520.83 L1623.27 529.84 L1616.88 538.8 L1610.49 547.73 L1604.1 556.61 L1597.71 565.44 L1591.32 574.22 L1584.93 582.96 L1578.54 591.65 L1572.14 600.28 L1565.75 608.87 L1559.36 617.4 L1552.96 625.87 L1546.57 634.29 L1540.17 642.65 L1533.78 650.95 L1527.38 659.2 L1520.99 667.38 L1514.59 675.51 L1508.2 683.58 L1501.8 691.6 L1495.41 699.57 L1489.01 707.49 L1482.62 715.35 L1476.23 723.17 L1469.83 730.94 L1463.44 738.67 L1457.05 746.35 L1450.65 753.98 L1444.26 761.58 L1437.87 769.13 L1431.48 776.65 L1425.09 784.12 L1418.7 791.56 L1412.31 798.97 L1405.91 806.34 L1399.52 813.68 L1393.13 820.98 L1386.75 828.26 L1380.36 835.51 L1373.97 842.73 L1367.58 849.92 L1361.19 857.08 L1354.8 864.21 L1348.41 871.3 L1342.01 878.37 L1335.62 885.4 L1329.23 892.4 L1322.84 899.37 L1316.45 906.3 L1310.05 913.2 L1303.66 920.06 L1297.27 926.88 L1290.87 933.67 L1284.48 940.42 L1278.08 947.13 L1271.69 953.81 L1265.29 960.44 L1258.9 967.03 L1252.5 973.58 L1246.1 980.09 L1239.71 986.55 L1233.31 992.98 L1226.91 999.36 L1220.51 1005.69 L1214.11 1011.98 L1207.72 1018.23 L1201.32 1024.43 L1194.92 1030.59 L1188.52 1036.71 L1182.12 1042.78 L1175.72 1048.8 L1169.32 1054.79 L1162.92 1060.73 L1156.52 1066.62 L1150.12 1072.47 L1143.72 1078.28 L1137.32 1084.04 L1130.92 1089.76 L1124.52 1095.44 L1118.12 1101.07 L1111.71 1106.66 L1105.31 1112.21 L1098.91 1117.71 L1092.51 1123.17 L1086.11 1128.59 L1079.7 1133.96 L1073.3 1139.29 L1066.9 1144.57 L1060.49 1149.81 L1054.09 1155.01 L1047.69 1160.17 L1041.28 1165.28 L1034.88 1170.35 L1028.48 1175.38 L1022.07 1180.36 L1015.67 1185.3 L1009.26 1190.2 L1002.86 1195.06 L996.45 1199.87 L990.05 1204.65 L983.64 1209.37 L977.24 1214.06 L970.83 1218.71 L964.42 1223.31 L958.02 1227.87 L951.61 1232.39 L945.2 1236.87 L938.8 1241.3 L932.39 1245.7 L925.98 1250.05 L919.58 1254.36 L913.17 1258.63 L906.76 1262.86 L900.35 1267.04 L893.94 1271.19 L887.54 1275.3 L881.13 1279.36 L874.72 1283.39 L868.31 1287.37 L861.9 1291.32 L855.49 1295.22 L849.09 1299.09 L842.68 1302.92 L836.27 1306.71 L829.86 1310.46 L823.45 1314.17 L817.04 1317.84 L810.63 1321.47 L804.22 1325.07 L797.81 1328.63 L791.4 1332.14 L784.98 1335.61 L778.57 1339.05 L772.15 1342.45 L765.74 1345.81 L759.32 1349.13 L752.91 1352.42 L746.49 1355.67 L740.07 1358.88 L733.65 1362.05 L727.23 1365.19 L720.81 1368.28 L714.39 1371.33 L707.97 1374.33 L701.55 1377.3 L695.13 1380.22 L688.7 1383.1 L682.28 1385.94 L675.85 1388.73 L669.43 1391.47 L663 1394.17 L656.57 1396.82 L650.14 1399.43 L643.72 1401.98 L637.29 1404.49 L630.86 1406.95 L624.42 1409.36 L617.99 1411.72 L611.56 1414.03 L605.13 1416.29 L598.7 1418.5 L592.27 1420.66 L585.85 1422.78 L579.42 1424.86 L573 1426.9 L566.58 1428.89 L560.16 1430.85 L553.74 1432.77 L547.33 1434.66 L540.91 1436.52 L534.5 1438.34 L528.09 1440.13 L521.67 1441.89 L515.25 1443.61 L508.83 1445.31 L502.4 1446.96 L495.98 1448.56 L489.55 1450.12 L483.12 1451.63 L476.68 1453.08 L470.24 1454.47 L463.8 1455.81 L457.36 1457.08 L450.92 1458.29 L444.49 1459.44 L438.06 1460.54 L431.63 1461.6 L425.22 1462.62 L418.81 1463.6 L412.4 1464.56 L406 1465.49 L399.61 1466.41 L393.22 1467.31 L386.84 1468.21 L380.46 1469.1 L374.08 1470 L367.71 1470.9 L361.33 1471.81 L354.95 1472.71 L348.57 1473.62 L342.19 1474.53 L335.82 1475.44 L329.44 1476.35 L323.06 1477.26 L316.68 1478.17 Z"/>
<path d="M315.32 1464.42 L314.73 1464.51 A6.9 6.9 0 0 0 316.68 1478.17 L317.27 1478.08 Z"/>
<path d="M1833.76 190.77 L1834.09 190.27 A7.55 7.55 0 0 1 1846.71 198.57 L1846.38 199.07 Z"/>
</g>
</g>
<g fill="#000" shape-rendering="crispEdges">
<rect x="304" y="56" width="5" height="1457"/>
<rect x="304" y="1508" width="1539" height="5"/>
<rect x="304" y="1508" width="35" height="5"/>
<rect x="304" y="1363" width="35" height="5"/>
<rect x="304" y="1217" width="35" height="5"/>
<rect x="304" y="1072" width="35" height="5"/>
<rect x="304" y="927" width="35" height="5"/>
<rect x="304" y="782" width="35" height="5"/>
<rect x="304" y="637" width="35" height="5"/>
<rect x="304" y="491" width="35" height="5"/>
<rect x="304" y="346" width="35" height="5"/>
<rect x="304" y="201" width="35" height="5"/>
<rect x="304" y="56" width="35" height="5"/>
<rect x="304" y="1477" width="5" height="36"/>
<rect x="458" y="1477" width="5" height="36"/>
<rect x="611" y="1477" width="5" height="36"/>
<rect x="764" y="1477" width="5" height="36"/>
<rect x="918" y="1477" width="5" height="36"/>
<rect x="1071" y="1477" width="5" height="36"/>
<rect x="1224" y="1477" width="6" height="36"/>
<rect x="1378" y="1477" width="5" height="36"/>
<rect x="1531" y="1477" width="5" height="36"/>
<rect x="1685" y="1477" width="5" height="36"/>
<rect x="1838" y="1477" width="5" height="36"/>
</g>
<g fill="none">
<line x1="339.15" y1="274.7" x2="451.05" y2="274.7" stroke="#FF0000" stroke-width="11.9" stroke-linecap="round" stroke-dasharray="22.1 22.9"/>
<path d="M748.85 267.95 L748.35 267.95 A6.45 6.45 0 0 0 748.35 280.85 L748.85 280.85 Z" fill="#2E75B6"/>
<path d="M893.85 267.95 L894.35 267.95 A6.45 6.45 0 0 1 894.35 280.85 L893.85 280.85 Z" fill="#2E75B6"/>
<line x1="748.35" y1="271.9" x2="894.35" y2="271.9" stroke="#2E75B6" stroke-width="7.9"/>
<line x1="748.35" y1="279.5" x2="894.35" y2="279.5" stroke="#2E75B6" stroke-width="2.7"/>
<path d="M1067.15 267.95 L1066.65 267.95 A6.45 6.45 0 0 0 1066.65 280.85 L1067.15 280.85 Z" fill="#FFC000"/>
<path d="M1212.15 267.95 L1212.65 267.95 A6.45 6.45 0 0 1 1212.65 280.85 L1212.15 280.85 Z" fill="#FFC000"/>
<line x1="1066.65" y1="271.9" x2="1212.65" y2="271.9" stroke="#FFC000" stroke-width="7.9"/>
<line x1="1066.65" y1="279.5" x2="1212.65" y2="279.5" stroke="#FFC000" stroke-width="2.7"/>
</g>
<g font-size="63.2">
<text x="471" y="295.7" textLength="248.6" lengthAdjust="spacing">Mean line</text>
<text x="913.2" y="295.7" textLength="124.4" lengthAdjust="spacing">2005</text>
<text x="1232.2" y="295.7" textLength="120.8" lengthAdjust="spacing">2011</text>
</g>
<g font-size="80" text-anchor="end">
<text transform="translate(253.2 1541.6) scale(0.975 1.015)">0</text>
<text transform="translate(253.2 1396.13) scale(0.975 1.015)">10</text>
<text transform="translate(253.2 1250.66) scale(0.975 1.015)">20</text>
<text transform="translate(253.2 1105.19) scale(0.975 1.015)">30</text>
<text transform="translate(253.2 959.72) scale(0.975 1.015)">40</text>
<text transform="translate(253.2 814.25) scale(0.975 1.015)">50</text>
<text transform="translate(253.2 668.78) scale(0.975 1.015)">60</text>
<text transform="translate(253.2 523.31) scale(0.975 1.015)">70</text>
<text transform="translate(253.2 377.84) scale(0.975 1.015)">80</text>
<text transform="translate(253.2 232.37) scale(0.975 1.015)">90</text>
<text transform="translate(253.2 86.9) scale(0.975 1.015)">100</text>
</g>
<g font-size="80" text-anchor="middle">
<text transform="translate(306.5 1642.1) scale(0.975 1.015)">0</text>
<text transform="translate(460.07 1642.1) scale(0.975 1.015)">10</text>
<text transform="translate(613.64 1642.1) scale(0.975 1.015)">20</text>
<text transform="translate(767.21 1642.1) scale(0.975 1.015)">30</text>
<text transform="translate(920.78 1642.1) scale(0.975 1.015)">40</text>
<text transform="translate(1074.35 1642.1) scale(0.975 1.015)">50</text>
<text transform="translate(1227.92 1642.1) scale(0.975 1.015)">60</text>
<text transform="translate(1381.49 1642.1) scale(0.975 1.015)">70</text>
<text transform="translate(1535.06 1642.1) scale(0.975 1.015)">80</text>
<text transform="translate(1688.63 1642.1) scale(0.975 1.015)">90</text>
<text transform="translate(1842.2 1642.1) scale(0.975 1.015)">100</text>
</g>
<g font-size="80" text-anchor="middle">
<text x="715.0" y="1727.2" text-anchor="start" textLength="690.7" lengthAdjust="spacing">Poverty population/%</text>
<text transform="translate(95.1 741) rotate(-90)" textLength="477" lengthAdjust="spacing">District area/%</text>
</g>
</svg>
</body></html>
